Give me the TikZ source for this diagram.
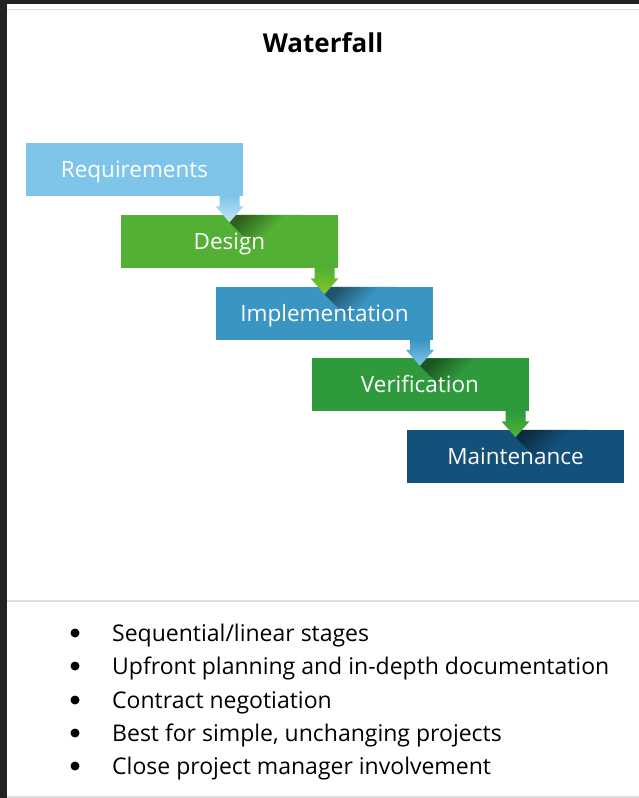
\documentclass[tikz,border=0pt]{standalone}
\usepackage{fontspec}
\setmainfont{Open Sans}
\usetikzlibrary{calc}
\definecolor{framebg}{HTML}{222222}
\definecolor{rulegray}{HTML}{DDDDDD}
\definecolor{reqblue}{HTML}{7FC5EA}
\definecolor{desgreen}{HTML}{52B034}
\definecolor{impblue}{HTML}{3A95C2}
\definecolor{vergreen}{HTML}{2F9A3C}
\definecolor{mntblue}{HTML}{13507A}
\definecolor{tipgreen}{HTML}{86C52A}
\tikzset{
  stagebox/.style={minimum width=217pt, minimum height=53pt, inner sep=0pt},
  stagelabel/.style={inner sep=0pt, text=white, font=\fontsize{22.5}{26}\selectfont,
    text height=16pt, text depth=0pt},
  pointtext/.style={anchor=base west, inner sep=0pt, font=\fontsize{23}{27}\selectfont},
  bulletdot/.style={circle, fill=black, minimum size=9pt, inner sep=0pt},
}
% block arrow: from, to, top colour, tip colour, fill of the target box
\newcommand{\stagearrow}[5]{%
  \path[top color=#5!55!black, bottom color=#5, middle color=#5, shading angle=45]
    ($(#2.north)+(-3,0.5)$) -- ($(#2.north)+(72,0.5)$)
    -- ($(#2.north)+(36,44)$) -- ($(#2.north)+(0,8)$) -- cycle;
  \path[top color=#3, bottom color=#4] ($(#1.south -| #2.north)+(-10,0)$) -- ($(#2.north)+(-10,-8)$)
    -- ($(#2.north)+(-14,-8)$) -- ($(#2.north)+(0,8)$) -- ($(#2.north)+(14,-8)$)
    -- ($(#2.north)+(10,-8)$) -- ($(#1.south -| #2.north)+(10,0)$) -- cycle;
}
\begin{document}
\begin{tikzpicture}[x=1pt,y=-1pt]
	\useasboundingbox (0,0) rectangle (639,798);
	% frame
	\fill [framebg] (0,0) rectangle (639,798);
	\fill [white] (7,4) rectangle (639,798);
	\draw [rulegray, line width=1.5pt] (7,9.5) -- (639,9.5);
	\draw [rulegray, line width=1.5pt] (7,601) -- (639,601);
	\draw [rulegray, line width=1.5pt] (7,797) -- (639,797);
	\node [anchor=base, font=\bfseries\fontsize{26}{32}\selectfont] (title) at (323,52) {Waterfall};
	% stages
	\node [stagebox, fill=reqblue] (req) at (134.5,169.5) {};
	\node [stagebox, fill=desgreen] (des) at (229.5,241) {};
	\node [stagebox, fill=impblue] (imp) at (324.5,313) {};
	\node [stagebox, fill=vergreen] (ver) at (420,384.5) {};
	\node [stagebox, fill=mntblue] (mnt) at (515.5,456) {};
	\stagearrow{req}{des}{reqblue}{reqblue!45!white}{desgreen}
	\stagearrow{des}{imp}{desgreen}{tipgreen}{impblue}
	\stagearrow{imp}{ver}{impblue}{reqblue}{vergreen}
	\stagearrow{ver}{mnt}{vergreen}{desgreen}{mntblue}
	\node [stagelabel] (reqtext) at (req) {Requirements};
	\node [stagelabel] (destext) at (des) {Design};
	\node [stagelabel] (imptext) at (imp) {Implementation};
	\node [stagelabel] (vertext) at (ver) {Verification};
	\node [stagelabel] (mnttext) at (mnt) {Maintenance};
	% list
	\node [bulletdot] (b1) at (75,633) {};
	\node [pointtext] (p1) at (112,641) {Sequential/linear stages};
	\node [bulletdot] (b2) at (75,666) {};
	\node [pointtext] (p2) at (112,674) {Upfront planning and in-depth documentation};
	\node [bulletdot] (b3) at (75,700) {};
	\node [pointtext] (p3) at (112,708) {Contract negotiation};
	\node [bulletdot] (b4) at (75,733) {};
	\node [pointtext] (p4) at (112,741) {Best for simple, unchanging projects};
	\node [bulletdot] (b5) at (75,766) {};
	\node [pointtext] (p5) at (112,774) {Close project manager involvement};
\end{tikzpicture}
\end{document}
